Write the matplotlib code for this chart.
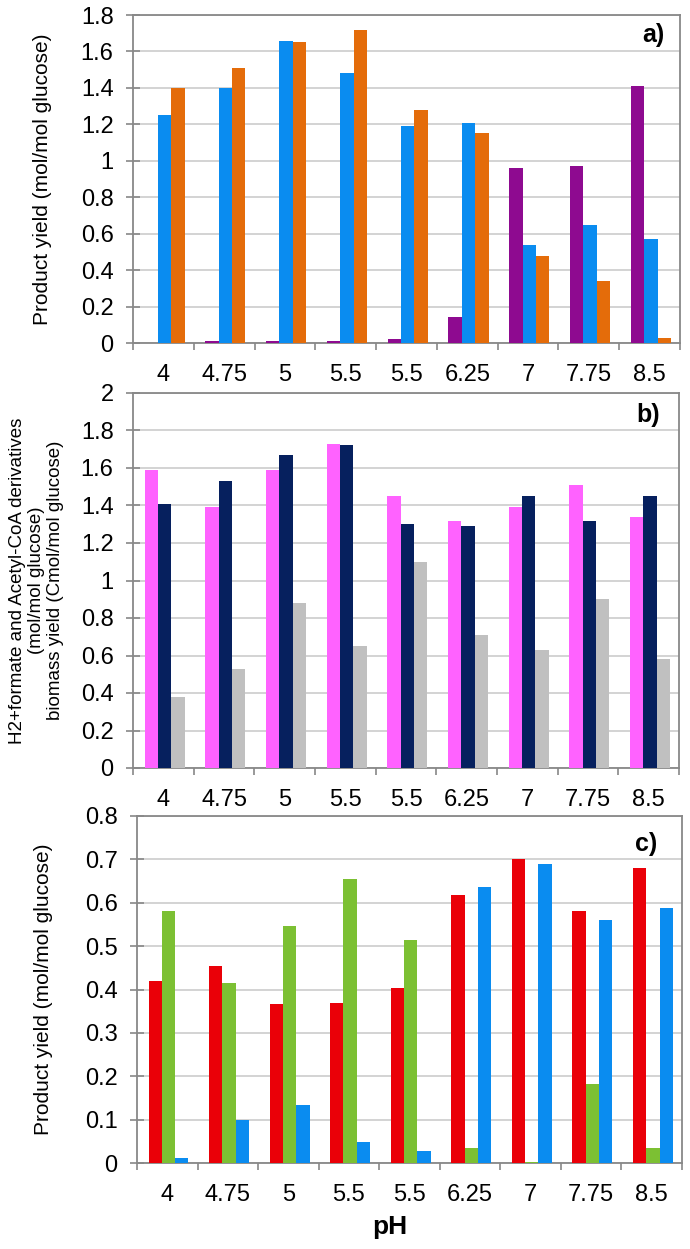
import numpy as np
import matplotlib
matplotlib.use("Agg")
import matplotlib.pyplot as plt
from matplotlib.ticker import FixedLocator, FuncFormatter

plt.rcParams['font.family'] = ['Liberation Sans', 'DejaVu Sans']

ph_labels = ["4", "4.75", "5", "5.5", "5.5", "6.25", "7", "7.75", "8.5"]

# panel a
a_purple = [0.0, 0.01, 0.01, 0.01, 0.02, 0.14, 0.96, 0.97, 1.41]
a_blue = [1.25, 1.40, 1.66, 1.48, 1.19, 1.21, 0.54, 0.65, 0.57]
a_orange = [1.40, 1.51, 1.65, 1.72, 1.28, 1.15, 0.48, 0.34, 0.03]

# panel b
b_pink = [1.59, 1.39, 1.59, 1.73, 1.45, 1.32, 1.39, 1.51, 1.34]
b_navy = [1.41, 1.53, 1.67, 1.72, 1.30, 1.29, 1.45, 1.32, 1.45]
b_gray = [0.38, 0.53, 0.88, 0.65, 1.10, 0.71, 0.63, 0.90, 0.58]

# panel c
c_red = [0.42, 0.455, 0.366, 0.369, 0.403, 0.618, 0.70, 0.58, 0.681]
c_green = [0.58, 0.416, 0.546, 0.654, 0.513, 0.035, 0.002, 0.183, 0.035]
c_blue = [0.012, 0.10, 0.133, 0.049, 0.028, 0.636, 0.689, 0.56, 0.588]

W, H = 690, 1249
fig = plt.figure(figsize=(W / 100, H / 100), dpi=100)


def box(l, t, r, b):
    return [l / W, 1 - b / H, (r - l) / W, (b - t) / H]


def fmt(v, pos):
    return f"{round(v, 2):g}"


def panel(rect, series, colors, ymax, ystep, tag, tagxy, ylabel, ylab_x, ylab_size, ls=1.0):
    ax = fig.add_axes(rect)
    n = len(ph_labels)
    x = np.arange(n) + 0.5 + 0.02
    w = 0.22
    for k, (vals, col) in enumerate(zip(series, colors)):
        ax.bar(x + (k - 1) * w, vals, width=w, color=col, zorder=3)
    ax.set_xlim(0, n)
    ax.set_ylim(0, ymax)
    ax.set_yticks(np.arange(0, ymax + ystep / 2, ystep))
    ax.yaxis.set_major_formatter(FuncFormatter(fmt))
    ax.grid(axis='y', color='#d0d0d0', lw=1.3, zorder=0)
    ax.set_axisbelow(True)
    for s in ax.spines.values():
        s.set_color('#888888')
        s.set_linewidth(1.3)
    ax.tick_params(axis='y', direction='inout', length=10, width=1.2,
                   color='#888888', labelsize=17, pad=9)
    ax.xaxis.set_major_locator(FixedLocator(np.arange(n + 1)))
    ax.xaxis.set_major_formatter(FuncFormatter(lambda v, p: ""))
    ax.xaxis.set_minor_locator(FixedLocator(np.arange(n) + 0.5))
    ax.set_xticklabels(ph_labels, minor=True)
    ax.tick_params(axis='x', which='major', direction='out', length=5,
                   width=1.2, color='#888888')
    ax.tick_params(axis='x', which='minor', length=0, labelsize=17, pad=15)
    ax.text(tagxy[0], tagxy[1], tag, transform=ax.transAxes, ha='center',
            va='center', fontsize=18, fontweight='bold')
    ax.set_ylabel(ylabel, fontsize=ylab_size, va='center', linespacing=ls)
    ax.yaxis.set_label_coords(ylab_x, 0.5)
    return ax


panel(box(133, 15, 680, 343), [a_purple, a_blue, a_orange],
      ['#8e0a90', '#0a8cf0', '#e46c0a'], 1.8, 0.2, "a)", (0.952, 0.939),
      "Product yield (mol/mol glucose)", -0.165, 15)

panel(box(133, 393, 679, 768), [b_pink, b_navy, b_gray],
      ['#ff62ff', '#06205e', '#c0c0c0'], 2.0, 0.2, "b)", (0.943, 0.941),
      "H2+formate and Acetyl-CoA derivatives\n(mol/mol glucose)\nbiomass yield (Cmol/mol glucose)",
      -0.176, 13.5, 1.15)

panel(box(137, 816, 682, 1163), [c_red, c_green, c_blue],
      ['#ea0008', '#7cc033', '#0a8cf0'], 0.8, 0.1, "c)", (0.934, 0.919),
      "Product yield (mol/mol glucose)", -0.171, 15)

fig.text(390 / W, 1 - 1227 / H, "pH", ha='center', va='center',
         fontsize=19, fontweight='bold')

fig.savefig("out.png", dpi=100)
